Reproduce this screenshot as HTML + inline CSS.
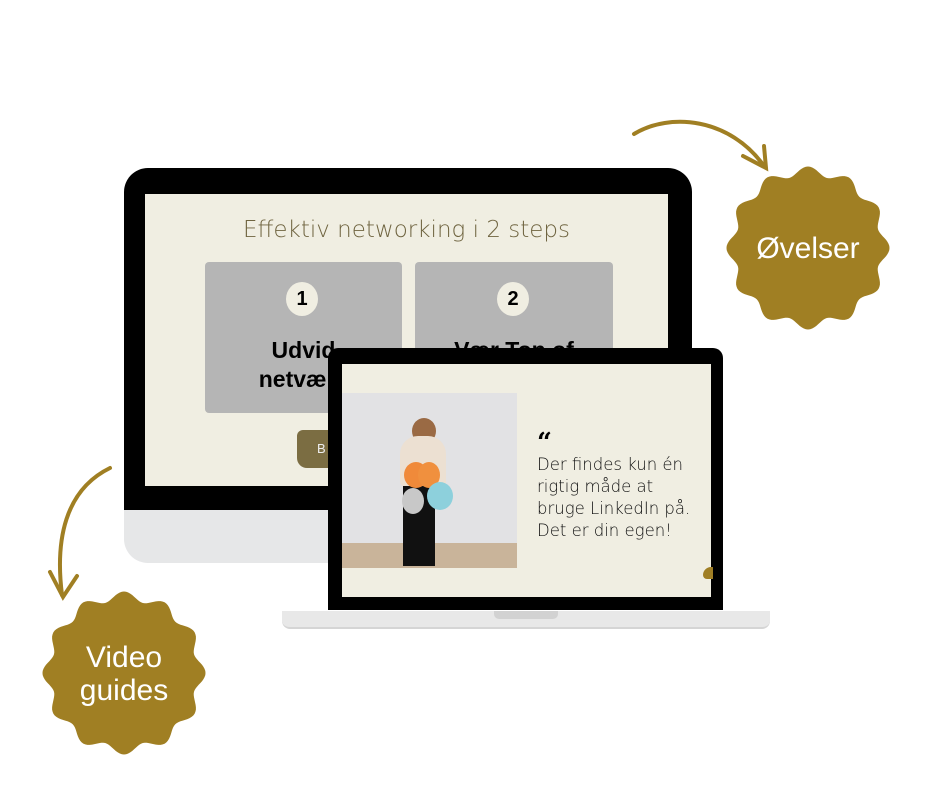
<!DOCTYPE html>
<html><head><meta charset="utf-8"><style>
body{margin:0;width:940px;height:788px;background:#fff;position:relative;overflow:hidden;font-family:"Liberation Sans",sans-serif}
.a{position:absolute}
</style></head><body>
<!-- monitor -->
<div class="a" style="left:124px;top:168px;width:568px;height:395px;background:#e6e7e8;border-radius:24px"></div>
<div class="a" style="left:124px;top:168px;width:568px;height:342px;background:#000;border-radius:24px 24px 0 0"></div>
<div class="a" style="left:145px;top:194px;width:523px;height:292px;background:#f0eee2"></div>
<div class="a" style="left:145px;top:217px;width:523px;text-align:center;font-family:'DejaVu Sans',sans-serif;font-weight:200;font-size:23px;color:#6f6440;letter-spacing:0">Effektiv networking i 2 steps</div>
<div class="a" style="left:205px;top:262px;width:197px;height:151px;background:#b5b5b5;border-radius:4px"></div>
<div class="a" style="left:415px;top:262px;width:198px;height:151px;background:#b5b5b5;border-radius:4px"></div>
<div class="a" style="left:286px;top:282px;width:32px;height:34px;border-radius:50%;background:#f0eee2;text-align:center;line-height:34px;font-weight:bold;font-size:20px">1</div>
<div class="a" style="left:497px;top:282px;width:32px;height:34px;border-radius:50%;background:#f0eee2;text-align:center;line-height:34px;font-weight:bold;font-size:20px">2</div>
<div class="a" style="left:205px;top:336px;width:197px;text-align:center;font-weight:bold;font-size:23px;line-height:29px">Udvid<br>netværk</div>
<div class="a" style="left:415px;top:336px;width:198px;text-align:center;font-weight:bold;font-size:23px;line-height:29px">Vær Top of</div>
<div class="a" style="left:297px;top:430px;width:40px;height:38px;background:#7b6d42;border-radius:6px 0 0 10px;color:#eee;font-size:13px;line-height:38px;padding-left:20px">B</div>
<!-- laptop -->
<div class="a" style="left:282px;top:611px;width:488px;height:16px;background:#e8e8e8;border-radius:0 0 8px 8px;border-bottom:2px solid #d5d5d5"></div>
<div class="a" style="left:494px;top:611px;width:64px;height:8px;background:#d2d2d2;border-radius:0 0 5px 5px"></div>
<div class="a" style="left:328px;top:348px;width:395px;height:262px;background:#000;border-radius:10px 10px 0 0"></div>
<div class="a" style="left:342px;top:364px;width:369px;height:233px;background:#f0eee2"></div>
<div class="a" style="left:342px;top:393px;width:175px;height:175px;background:#e2e2e4"></div>
<div class="a" style="left:342px;top:543px;width:175px;height:25px;background:#c9b49a"></div>
<div class="a" style="left:412px;top:418px;width:24px;height:26px;border-radius:50%;background:#9a6a44"></div>
<div class="a" style="left:400px;top:436px;width:46px;height:50px;background:#ece0d2;border-radius:18px 18px 4px 4px"></div>
<div class="a" style="left:403px;top:486px;width:32px;height:80px;background:#111"></div>
<div class="a" style="left:404px;top:462px;width:24px;height:26px;border-radius:50%;background:#f08a3a"></div>
<div class="a" style="left:418px;top:462px;width:22px;height:26px;border-radius:50%;background:#f0903e"></div>
<div class="a" style="left:427px;top:482px;width:26px;height:28px;border-radius:50%;background:#8dd0dc"></div>
<div class="a" style="left:402px;top:488px;width:22px;height:26px;border-radius:50%;background:#c8c8c8"></div>
<div class="a" style="left:537px;top:430px;font-size:26px;font-weight:bold;line-height:26px;font-family:'DejaVu Serif',serif">“</div>
<div class="a" style="left:537px;top:454px;font-family:'DejaVu Sans',sans-serif;font-weight:200;font-size:16.5px;line-height:22px;color:#111">Der findes kun én<br>rigtig måde at<br>bruge LinkedIn på.<br>Det er din egen!</div>
<div class="a" style="left:703px;top:567px;width:10px;height:12px;background:#a07f25;border-radius:8px 0 0 4px"></div>
<!-- badges & arrows -->
<svg class="a" style="left:0;top:0" width="940" height="788" viewBox="0 0 940 788">
<path id="b1" fill="#a07f23"/><path id="b2" fill="#a07f23"/>
<g fill="none" stroke="#a07f23" stroke-width="4" stroke-linecap="round">
<path d="M634 134 C670 112 730 118 764 166"/>
<path d="M743 156 L766 168 L764 146"/>
<path d="M110 468 C65 490 55 540 62 595"/>
<path d="M50 572 L63 597 L77 576"/>
</g>
<text x="808" y="258" text-anchor="middle" fill="#fff" font-family="Liberation Sans,sans-serif" font-size="30">Øvelser</text>
<text x="124" y="667" text-anchor="middle" fill="#fff" font-family="Liberation Sans,sans-serif" font-size="30">Video</text>
<text x="124" y="700" text-anchor="middle" fill="#fff" font-family="Liberation Sans,sans-serif" font-size="30">guides</text>
</svg>
<script>
function w(cx,cy){var d="";for(var i=0;i<=240;i++){var t=i/240*2*Math.PI,r=77+4.5*Math.cos(12*t);d+=(i?"L":"M")+(cx+r*Math.cos(t)).toFixed(1)+" "+(cy+r*Math.sin(t)).toFixed(1);}return d+"Z";}
document.getElementById("b1").setAttribute("d",w(808,248));
document.getElementById("b2").setAttribute("d",w(124,673));
</script>
</body></html>
